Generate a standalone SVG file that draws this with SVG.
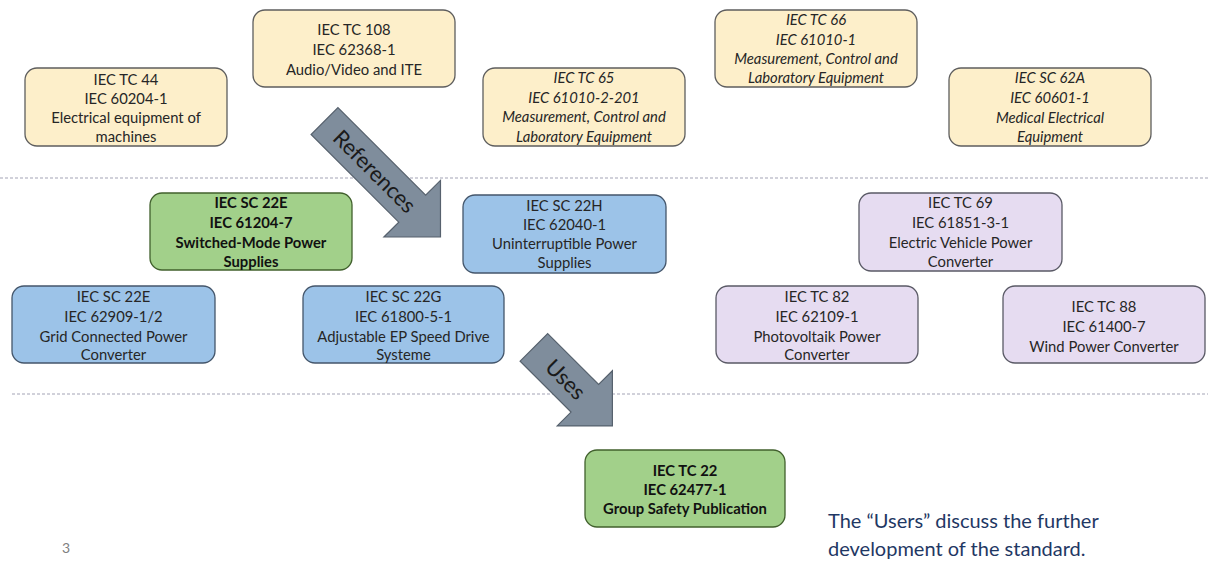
<svg xmlns="http://www.w3.org/2000/svg" width="1208" height="562" viewBox="0 0 1208 562">
<style>
.box{stroke-width:1.3}
.beige{fill:#fdefca;stroke:#5e5e5e}
.blue{fill:#9cc3e8;stroke:#44566b}
.purple{fill:#e6dcf1;stroke:#5a5a66}
.green{fill:#a2d08a;stroke:#41602d}
.t{font-family:Lato,"Liberation Sans",sans-serif;font-size:14.8px;fill:#262626;text-anchor:middle}
.i{font-style:italic}
.b{font-weight:bold;fill:#111}
.sep{stroke:#a3a3b5;stroke-width:1;stroke-dasharray:3 2;fill:none}
.arrow{fill:#7f8d9c;stroke:#56616d;stroke-width:1.2}
.at{font-family:Lato,"Liberation Sans",sans-serif;font-size:22px;fill:#1a1a1a;text-anchor:middle}
.note{font-family:Lato,"Liberation Sans",sans-serif;font-size:20px;fill:#1f3864}
</style>
<g id="separators">
<line class="sep" x1="0" y1="178" x2="1208" y2="178"/>
<line class="sep" x1="12" y1="394" x2="1208" y2="394"/>
</g>
<g id="connectors">
<g transform="translate(382.5,179) rotate(45)">
<path class="arrow" d="M-82,-19 L42,-19 L42,-40 L82,0 L42,40 L42,19 L-82,19 Z"/>
<text class="at" x="-11" y="8">References</text>
</g>
<g transform="translate(573.5,387) rotate(45)">
<path class="arrow" d="M-56,-19.5 L16,-19.5 L16,-39 L55,0 L16,39 L16,19.5 L-56,19.5 Z"/>
<text class="at" x="-11" y="8">Uses</text>
</g>
</g>
<g id="tc44">
<rect class="box beige" x="25" y="68" width="202" height="78" rx="12"/>
<text class="t" x="126" y="85">IEC TC 44</text>
<text class="t" x="126" y="104">IEC 60204-1</text>
<text class="t" x="126" y="123">Electrical equipment of</text>
<text class="t" x="126" y="142">machines</text>
</g>
<g id="tc108">
<rect class="box beige" x="253" y="10" width="202" height="77" rx="12"/>
<text class="t" x="354" y="35">IEC TC 108</text>
<text class="t" x="354" y="55">IEC 62368-1</text>
<text class="t" x="354" y="75">Audio/Video and ITE</text>
</g>
<g id="tc65">
<rect class="box beige" x="483" y="68" width="202" height="78" rx="12"/>
<text class="t i" x="584" y="83">IEC TC 65</text>
<text class="t i" x="584" y="103">IEC 61010-2-201</text>
<text class="t i" x="584" y="122">Measurement, Control and</text>
<text class="t i" x="584" y="142">Laboratory Equipment</text>
</g>
<g id="tc66">
<rect class="box beige" x="715" y="10" width="202" height="77" rx="12"/>
<text class="t i" x="816" y="25">IEC TC 66</text>
<text class="t i" x="816" y="45">IEC 61010-1</text>
<text class="t i" x="816" y="64">Measurement, Control and</text>
<text class="t i" x="816" y="83">Laboratory Equipment</text>
</g>
<g id="sc62a">
<rect class="box beige" x="949" y="68" width="202" height="78" rx="12"/>
<text class="t i" x="1050" y="83">IEC SC 62A</text>
<text class="t i" x="1050" y="103">IEC 60601-1</text>
<text class="t i" x="1050" y="123">Medical Electrical</text>
<text class="t i" x="1050" y="142">Equipment</text>
</g>
<g id="sc22e-smps">
<rect class="box green" x="150" y="193" width="202" height="77" rx="12"/>
<text class="t b" x="251" y="208">IEC SC 22E</text>
<text class="t b" x="251" y="228">IEC 61204-7</text>
<text class="t b" x="251" y="248">Switched-Mode Power</text>
<text class="t b" x="251" y="267">Supplies</text>
</g>
<g id="sc22h">
<rect class="box blue" x="463" y="195" width="203" height="78" rx="12"/>
<text class="t" x="564.5" y="211">IEC SC 22H</text>
<text class="t" x="564.5" y="230">IEC 62040-1</text>
<text class="t" x="564.5" y="249">Uninterruptible Power</text>
<text class="t" x="564.5" y="268">Supplies</text>
</g>
<g id="tc69">
<rect class="box purple" x="859" y="193" width="203" height="78" rx="12"/>
<text class="t" x="960.5" y="208">IEC TC 69</text>
<text class="t" x="960.5" y="228">IEC 61851-3-1</text>
<text class="t" x="960.5" y="248">Electric Vehicle Power</text>
<text class="t" x="960.5" y="267">Converter</text>
</g>
<g id="sc22e-grid">
<rect class="box blue" x="12" y="286" width="203" height="77" rx="12"/>
<text class="t" x="113.5" y="302">IEC SC 22E</text>
<text class="t" x="113.5" y="322">IEC 62909-1/2</text>
<text class="t" x="113.5" y="342">Grid Connected Power</text>
<text class="t" x="113.5" y="360">Converter</text>
</g>
<g id="sc22g">
<rect class="box blue" x="303" y="286" width="201" height="77" rx="12"/>
<text class="t" x="403.5" y="302">IEC SC 22G</text>
<text class="t" x="403.5" y="322">IEC 61800-5-1</text>
<text class="t" x="403.5" y="342">Adjustable EP Speed Drive</text>
<text class="t" x="403.5" y="360">Systeme</text>
</g>
<g id="tc82">
<rect class="box purple" x="716" y="286" width="202" height="77" rx="12"/>
<text class="t" x="817" y="302">IEC TC 82</text>
<text class="t" x="817" y="322">IEC 62109-1</text>
<text class="t" x="817" y="342">Photovoltaik Power</text>
<text class="t" x="817" y="360">Converter</text>
</g>
<g id="tc88">
<rect class="box purple" x="1003" y="286" width="202" height="77" rx="12"/>
<text class="t" x="1104" y="312">IEC TC 88</text>
<text class="t" x="1104" y="332">IEC 61400-7</text>
<text class="t" x="1104" y="352">Wind Power Converter</text>
</g>
<g id="tc22">
<rect class="box green" x="585" y="450" width="200" height="77" rx="12"/>
<text class="t b" x="685" y="476">IEC TC 22</text>
<text class="t b" x="685" y="495">IEC 62477-1</text>
<text class="t b" x="685" y="514">Group Safety Publication</text>
</g>
<g id="note">
<text class="note" x="828" y="528">The “Users” discuss the further</text>
<text class="note" x="828" y="556">development of the standard.</text>
</g>
<text x="62" y="553" style="font-family:Lato,'Liberation Sans',sans-serif;font-size:14px;fill:#808080">3</text>
</svg>
